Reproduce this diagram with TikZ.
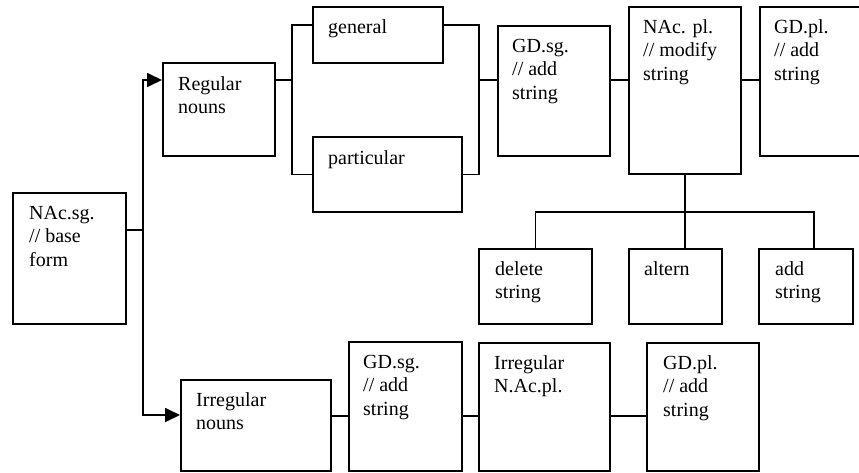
\documentclass[tikz,border=0pt]{standalone}
\usepackage{fontspec}
\setmainfont{Liberation Serif}
\usetikzlibrary{arrows.meta}
\begin{document}
\begin{tikzpicture}[x=1pt,y=-1pt,
  box/.style={draw, line width=1.8pt, inner sep=0pt, anchor=north west},
  txt/.style={anchor=north west, inner sep=0pt, align=left, font=\fontsize{20}{23.5}\selectfont},
  conn/.style={line width=1.8pt},
  arr/.style={line width=1.8pt, -{Triangle[length=15pt,width=14pt]}}]
\fill[white] (0,0) rectangle (859,472);
\useasboundingbox (0,0) rectangle (859,472);
\clip (0,0) rectangle (859,472);
% boxes
\node[box, minimum width=113pt, minimum height=131pt] (ncsg) at (12,192) {};
\node[box, minimum width=112pt, minimum height=93pt] (reg) at (162,62) {};
\node[box, minimum width=130pt, minimum height=56pt] (gen) at (312,6) {};
\node[box, minimum width=149pt, minimum height=75pt] (part) at (312,136) {};
\node[box, minimum width=112pt, minimum height=130pt] (gdsg) at (497,25) {};
\node[box, minimum width=112pt, minimum height=167pt] (ncpl) at (628,6) {};
\node[box, minimum width=125pt, minimum height=149pt] (gdpl) at (759,6) {};
\node[box, minimum width=113pt, minimum height=75pt] (del) at (478,248) {};
\node[box, minimum width=93pt, minimum height=75pt] (alt) at (628,248) {};
\node[box, minimum width=94pt, minimum height=75pt] (add) at (758,248) {};
\node[box, minimum width=150pt, minimum height=91pt] (irr) at (180,379) {};
\node[box, minimum width=113pt, minimum height=129pt] (gdsgb) at (348,341) {};
\node[box, minimum width=131pt, minimum height=128pt] (irrpl) at (478,342) {};
\node[box, minimum width=112pt, minimum height=128pt] (gdplb) at (646,342) {};
% texts
\node[txt] (ncsgT) at (29,206) {NAc.sg.\\// base\\form};
\node[txt] (regT) at (178,76) {Regular\\nouns};
\node[txt] (genT) at (328,19) {general};
\node[txt] (partT) at (328,150) {particular};
\node[txt] (gdsgT) at (512,39) {GD.sg.\\// add\\string};
\node[txt] (ncplT) at (643,19) {NAc. pl.\\// modify\\string};
\node[txt] (gdplT) at (774,19) {GD.pl.\\// add\\string};
\node[txt] (delT) at (495,261) {delete\\string};
\node[txt] (altT) at (644,261) {altern};
\node[txt] (addT) at (775,261) {add\\string};
\node[txt] (irrT) at (196,392) {Irregular\\nouns};
\node[txt] (gdsgbT) at (363,355) {GD.sg.\\// add\\string};
\node[txt] (irrplT) at (494,355) {Irregular\\N.Ac.pl.};
\node[txt] (gdplbT) at (663,355) {GD.pl.\\// add\\string};
% connectors
\coordinate (split) at (143,230);
\draw[conn] (ncsg.east |- split) -- (split);
\draw[arr] (split) |- ([yshift=-18pt]reg.north west);
\draw[arr] (split) |- ([yshift=-36pt]irr.north west);
\coordinate (bl) at (292,80);
\coordinate (br) at (479,80);
\draw[conn] (reg.east |- bl) -- (bl);
\draw[conn] ([yshift=-19pt]gen.north west) -| (bl) |- (part.west);
\draw[conn] ([yshift=-19pt]gen.north east) -| (br) |- (part.east);
\draw[conn] (br) -- (gdsg.west |- br);
\draw[conn] (gdsg.east |- br) -- (ncpl.west |- br);
\draw[conn] (ncpl.east |- br) -- (gdpl.west |- br);
\coordinate (hb) at (684,212);
\draw[conn] (ncpl.south) -- (ncpl.south |- alt.north);
\draw[conn] (del.north) |- (hb) -| ([xshift=56pt]add.north west);
\coordinate (lo) at (330,416);
\draw[conn] (irr.east |- lo) -- (gdsgb.west |- lo);
\draw[conn] (gdsgb.east |- lo) -- (irrpl.west |- lo);
\draw[conn] (irrpl.east |- lo) -- (gdplb.west |- lo);
\end{tikzpicture}
\end{document}
